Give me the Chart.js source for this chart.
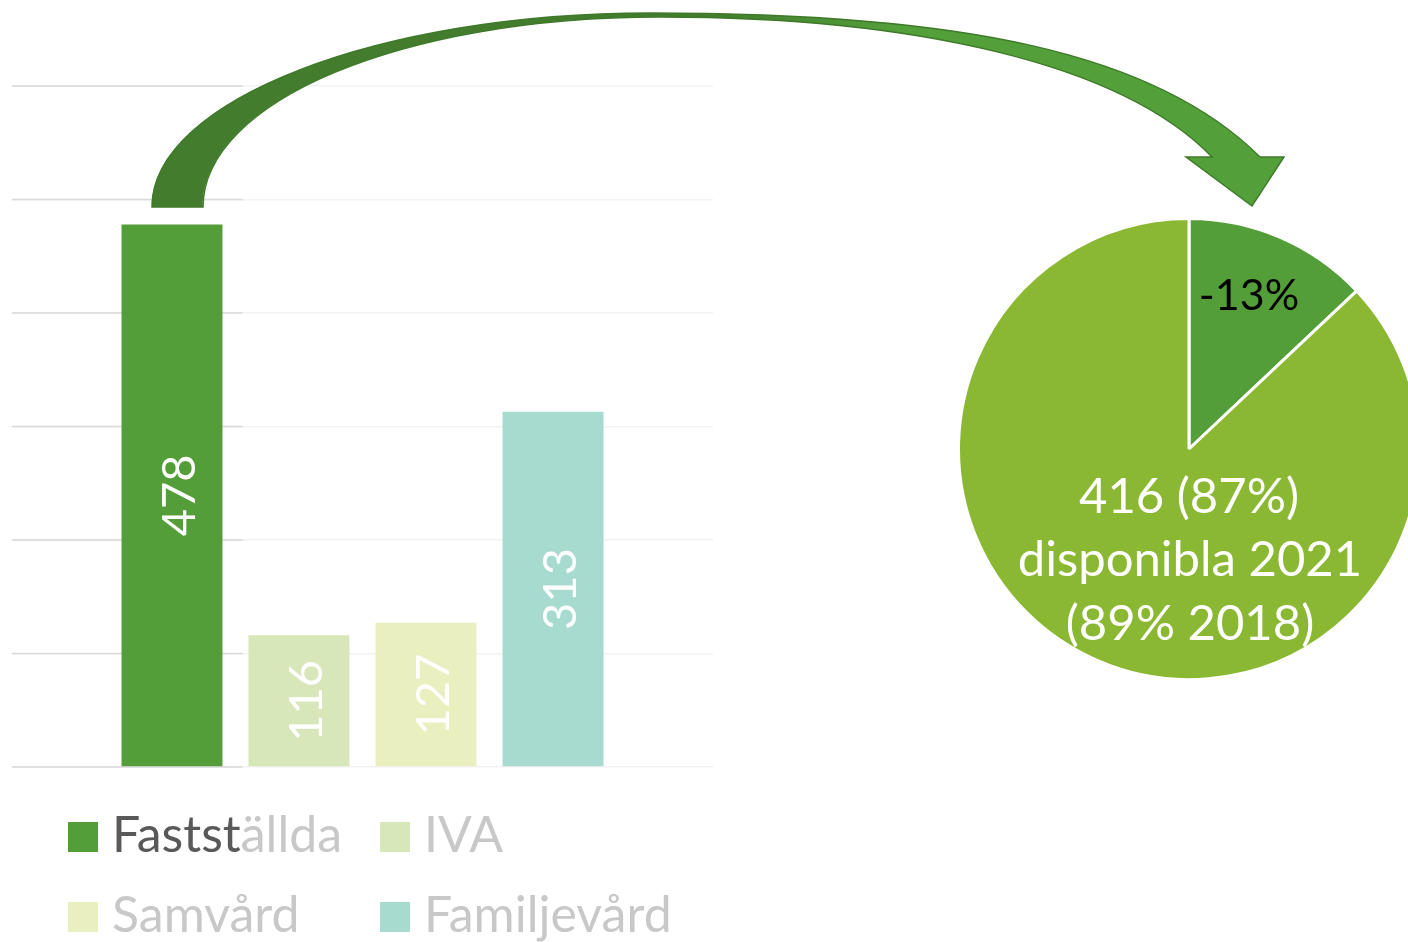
<!DOCTYPE html>
<html><head><meta charset="utf-8">
<script src="https://cdn.jsdelivr.net/npm/chart.js@4"></script>
<style>
html,body{margin:0;padding:0;background:#fff;overflow:hidden;width:1408px;height:942px;}
#barWrap{position:absolute;left:0;top:0;width:1408px;height:942px;}
#pieWrap{position:absolute;left:954px;top:214px;width:470px;height:470px;}
</style></head><body>
<div id="barWrap"><canvas id="bar"></canvas></div>
<div id="pieWrap"><canvas id="pie"></canvas></div>
<script>
const categories = ['Fastställda','IVA','Samvård','Familjevård'];
const values = [478,116,127,313];
const barColors = ['#549e39','#d7e7ba','#eaefbf','#a8dbd0'];
const legendTextColors = ['#595959','#c8c8c8','#c8c8c8','#c8c8c8'];
const yMin = 0, yMax = 600, yStep = 100;
const pieLabels = ['Minskning','Disponibla 2021'];
const pieValues = [62,416];
const pieColors = ['#549e39','#8ab833'];
const pieNoteLine2 = 'disponibla 2021';
const pieNoteLine3 = '(89% 2018)';
const FONT = 'Lato';

function fadeBoundary(chart){
  const b = chart.getDatasetMeta(0).data[0];
  return b.x + b.width/2 + 20;
}

const gridSplit = {
  id:'gridSplit',
  beforeDatasetsDraw(chart){
    const ctx = chart.ctx, y = chart.scales.y, area = chart.chartArea;
    const xb = fadeBoundary(chart);
    ctx.save();
    ctx.strokeStyle = '#d9d9d9'; ctx.lineWidth = 1.5;
    y.ticks.forEach(t=>{
      const py = y.getPixelForValue(t.value);
      ctx.beginPath(); ctx.moveTo(area.left, py); ctx.lineTo(xb, py); ctx.stroke();
    });
    ctx.restore();
  }
};

const barLabels = {
  id:'barLabels',
  afterDatasetsDraw(chart){
    const ctx = chart.ctx;
    ctx.save();
    ctx.fillStyle = '#ffffff';
    ctx.font = '47px ' + FONT;
    ctx.textAlign = 'center'; ctx.textBaseline = 'alphabetic';
    chart.data.datasets.forEach((ds,i)=>{
      const el = chart.getDatasetMeta(i).data[0];
      const yc = (el.y + el.base)/2;
      ctx.save();
      ctx.translate(el.x, yc);
      ctx.rotate(-Math.PI/2);
      ctx.fillText(String(ds.data[0]), 0, 23);
      ctx.restore();
    });
    ctx.restore();
  }
};

const customLegend = {
  id:'customLegend',
  afterDraw(chart){
    const ctx = chart.ctx;
    const xb = fadeBoundary(chart);
    const colX = [68, 380], rowY = [822, 902], box = 30;
    ctx.save();
    ctx.font = '50px ' + FONT;
    ctx.textAlign = 'left'; ctx.textBaseline = 'alphabetic';
    chart.data.datasets.forEach((ds,i)=>{
      const bx = colX[i%2], by = rowY[Math.floor(i/2)];
      ctx.fillStyle = ds.backgroundColor;
      ctx.fillRect(bx, by, box, box);
      const tx = bx + 44, ty = by + box;
      if (i === 0) {
        ctx.save(); ctx.beginPath(); ctx.rect(0, by-60, xb, 120); ctx.clip();
        ctx.fillStyle = legendTextColors[0]; ctx.fillText(ds.label, tx, ty); ctx.restore();
        ctx.save(); ctx.beginPath(); ctx.rect(xb, by-60, 2000, 120); ctx.clip();
        ctx.fillStyle = legendTextColors[1]; ctx.fillText(ds.label, tx, ty); ctx.restore();
      } else {
        ctx.fillStyle = legendTextColors[i]; ctx.fillText(ds.label, tx, ty);
      }
    });
    ctx.restore();
  }
};

const curvedArrow = {
  id:'curvedArrow',
  afterDraw(chart){
    const ctx = chart.ctx;
    ctx.save();
    ctx.beginPath();
    ctx.moveTo(152,207);
    ctx.bezierCurveTo(152,100,380,13,650,13);
    ctx.bezierCurveTo(960,13,1155,52,1260,157);
    ctx.lineTo(1284,157);
    ctx.lineTo(1252,206);
    ctx.lineTo(1186,157);
    ctx.lineTo(1212,157);
    ctx.bezierCurveTo(1120,62,910,17,660,17);
    ctx.bezierCurveTo(400,17,203,102,203,207);
    ctx.closePath();
    const g = ctx.createLinearGradient(152,0,1284,0);
    g.addColorStop(0,'#437c2d'); g.addColorStop(0.5,'#437c2d');
    g.addColorStop(0.66,'#53a03a'); g.addColorStop(1,'#53a03a');
    ctx.fillStyle = g; ctx.fill();
    ctx.strokeStyle = '#3f7a2a'; ctx.lineWidth = 1.5; ctx.lineJoin = 'miter'; ctx.stroke();
    ctx.restore();
  }
};

new Chart(document.getElementById('bar'), {
  type:'bar',
  data:{
    labels:[''],
    datasets: categories.map((c,i)=>({
      label:c, data:[values[i]], backgroundColor:barColors[i],
      categoryPercentage:0.7247, barPercentage:0.795, borderWidth:0
    }))
  },
  options:{
    responsive:true, maintainAspectRatio:false, animation:false,
    layout:{padding:{left:12, top:86, right:695, bottom:175}},
    scales:{
      x:{display:false},
      y:{min:yMin, max:yMax, ticks:{display:false, stepSize:yStep},
         grid:{color:'#f2f2f2', lineWidth:1.5, drawTicks:false}, border:{display:false}}
    },
    plugins:{legend:{display:false}, tooltip:{enabled:false}}
  },
  plugins:[gridSplit, barLabels, customLegend, curvedArrow]
});

const pieText = {
  id:'pieText',
  afterDraw(chart){
    const ctx = chart.ctx;
    const arc = chart.getDatasetMeta(0).data[0];
    const cx = arc.x, cy = arc.y, r = arc.outerRadius;
    const total = pieValues.reduce((a,b)=>a+b,0);
    const pctDrop = Math.round(pieValues[0]/total*100);
    const pctKeep = Math.round(pieValues[1]/total*100);
    ctx.save();
    ctx.textAlign = 'center'; ctx.textBaseline = 'middle';
    ctx.fillStyle = '#000';
    ctx.font = '43px ' + FONT;
    ctx.fillText('-' + pctDrop + '%', cx + 0.26*r, cy - 0.663*r);
    ctx.fillStyle = '#fff';
    ctx.font = '49px ' + FONT;
    ctx.fillText(pieValues[1] + ' (' + pctKeep + '%)', cx, cy + 48);
    ctx.fillText(pieNoteLine2, cx + 1, cy + 111);
    ctx.fillText(pieNoteLine3, cx + 1, cy + 175);
    ctx.restore();
  }
};

new Chart(document.getElementById('pie'), {
  type:'pie',
  data:{labels:pieLabels, datasets:[{data:pieValues, backgroundColor:pieColors, borderColor:'#ffffff', borderWidth:3}]},
  options:{
    responsive:true, maintainAspectRatio:false, animation:false,
    layout:{padding:3},
    plugins:{legend:{display:false}, tooltip:{enabled:false}}
  },
  plugins:[pieText]
});
</script>
</body></html>
